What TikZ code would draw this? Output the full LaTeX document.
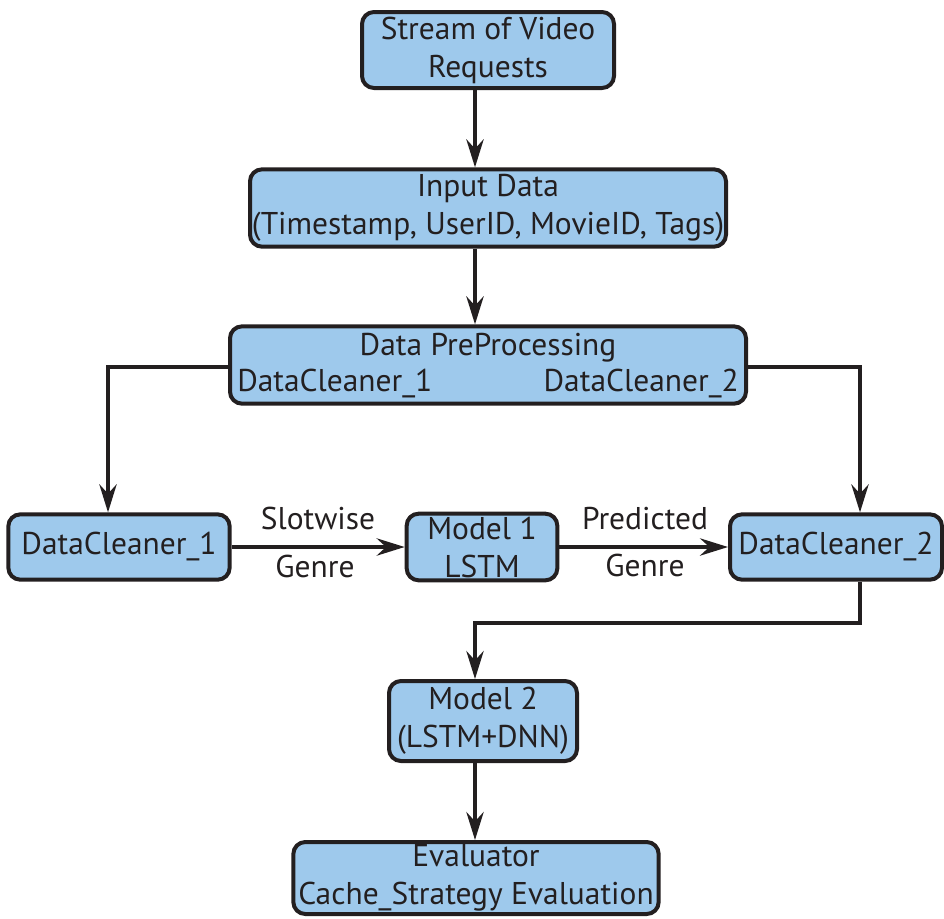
\documentclass[tikz,border=0pt]{standalone}
\usepackage{fontspec}
\setmainfont{PT Sans}
\usetikzlibrary{arrows.meta}
\definecolor{boxblue}{RGB}{158,201,236}
\definecolor{ink}{RGB}{35,31,32}
\tikzset{
  every node/.style={font=\fontsize{23.6}{28.5}\selectfont, text=ink},
  box/.style={draw=ink, fill=boxblue, line width=3pt, rounded corners=9pt,
              align=center, inner sep=0pt},
  flow/.style={draw=ink, line width=2.6pt,
               -{Stealth[length=21pt, width=13pt, inset=7pt]}},
  tag/.style={inner sep=0pt, anchor=base}
}
\begin{document}
\begin{tikzpicture}[x=0.75pt, y=-0.75pt]
  \useasboundingbox (0,0) rectangle (944,918);

  % boxes
  \node[box, minimum width=189pt, minimum height=57pt] (stream) at (488,50)
    {Stream of Video\\Requests};
  \node[box, minimum width=357pt, minimum height=58pt] (input) at (488,208)
    {Input Data\\(Timestamp, UserID, MovieID, Tags)};
  \node[box, minimum width=387pt, minimum height=58pt] (prep) at (488,365) {};
  \node[tag] (preptitle) at (488,355) {Data PreProcessing};
  \node[tag, anchor=base west] (prepleft) at (237,391) {DataCleaner\_1};
  \node[tag, anchor=base east] (prepright) at (739,391) {DataCleaner\_2};

  \node[box, minimum width=166pt, minimum height=49pt] (dca) at (119,547) {DataCleaner\_1};
  \node[box, minimum width=113pt, minimum height=50pt] (mone) at (482,547) {Model 1\\LSTM};
  \node[box, minimum width=159pt, minimum height=49pt] (dcb) at (836,547) {DataCleaner\_2};

  \node[box, minimum width=141pt, minimum height=60pt] (mtwo) at (483,721) {Model 2\\(LSTM+DNN)};
  \node[box, minimum width=274pt, minimum height=54pt] (evalr) at (476,878)
    {Evaluator\\Cache\_Strategy Evaluation};

  % edge labels
  \node[tag] (lslot) at (318,529) {Slotwise};
  \node[tag] (lgenrea) at (315,577) {Genre};
  \node[tag] (lpred) at (645,529) {Predicted};
  \node[tag] (lgenreb) at (645,576) {Genre};

  % helper points for the elbows
  \coordinate (lturn) at (108,367);
  \coordinate (rturn) at (860,367);
  \coordinate (bturn) at (860,623);
  \coordinate (mturn) at (475,623);

  % connectors
  \draw[flow] (stream.south -| 475,0) -- (input.north -| 475,0);
  \draw[flow] (input.south -| 475,0) -- (prep.north -| 475,0);
  \draw[flow] (lturn -| prep.west) -- (lturn) -- (dca.north -| lturn);
  \draw[flow] (rturn -| prep.east) -- (rturn) -- (dcb.north -| rturn);
  \draw[flow] (dca.east) -- (mone.west);
  \draw[flow] (mone.east) -- (dcb.west);
  \draw[flow] (dcb.south -| bturn) -- (bturn) -- (mturn) -- (mtwo.north -| mturn);
  \draw[flow] (mtwo.south -| 475,0) -- (evalr.north -| 475,0);
\end{tikzpicture}
\end{document}
